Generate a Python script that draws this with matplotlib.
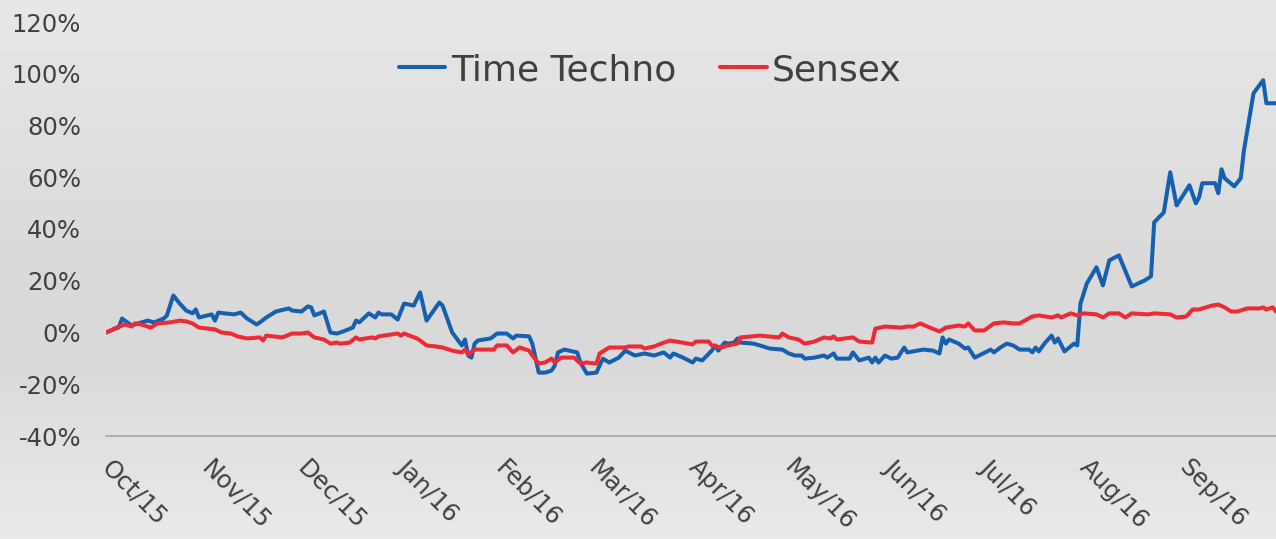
import numpy as np
import matplotlib
matplotlib.use("Agg")
import matplotlib.pyplot as plt
import matplotlib.transforms as mtransforms
from matplotlib.ticker import FuncFormatter

# days after 1 Oct 2015, value in percent
tt_days = [0, 4, 5, 8, 10, 13, 15, 18, 19, 21, 23, 25, 27, 28, 29, 33, 34, 35, 37, 40,
           42, 44, 47, 48, 50, 53, 57, 58, 61, 63, 64, 65, 68, 70, 72, 74, 77, 78, 79, 82,
           84, 85, 86, 89, 91, 93, 96, 98, 100, 104, 105, 108, 111, 112, 113, 114, 115, 116, 120, 122,
           125, 127, 128, 132, 133, 135, 137, 139, 140, 141, 143, 147, 148, 150, 153, 155, 157, 160, 162, 165,
           168, 171, 174, 176, 177, 180, 183, 184, 186, 189, 190, 191, 193, 194, 196, 197, 198, 202, 204, 207,
           211, 213, 215, 217, 218, 221, 224, 225, 227, 228, 232, 233, 235, 238, 239, 240, 241, 243, 245, 247,
           249, 250, 255, 258, 260, 261, 262, 263, 266, 268, 269, 271, 273, 276, 277, 279, 281, 283, 285, 288,
           289, 290, 291, 293, 295, 296, 297, 299, 302, 303, 304, 306, 309, 311, 313, 316, 320, 324, 326, 327,
           330, 332, 334, 338, 340, 341, 342, 346, 347, 348, 349, 352, 354, 355, 358, 361, 362, 365]
tt_vals = [0, 2, 5.4, 2.7, 3.5, 4.6, 3.9, 5.4, 6.6, 14.3, 11.2, 8.5, 7.4, 8.9, 5.8, 7.0, 4.6, 7.7, 7.4, 7.0,
           7.7, 5.4, 3.1, 3.9, 5.8, 8.1, 9.3, 8.5, 8.1, 10.1, 9.7, 6.6, 8.1, 0, -0.4, 0.4, 1.9, 4.6, 3.9, 7.4,
           5.8, 7.7, 7.0, 7.0, 5.0, 11.2, 10.4, 15.5, 4.6, 11.6, 10.4, 0, -5.0, -2.7, -8.9, -9.7, -4.3, -3.1, -2.3, -0.4,
           -0.4, -2.3, -1.2, -1.5, -4.3, -15.5, -15.5, -14.7, -12.8, -7.7, -6.6, -7.7, -11.6, -15.9, -15.5, -10.1, -11.6, -9.7, -7.0, -8.9,
           -8.1, -8.9, -7.7, -9.7, -8.1, -9.7, -11.6, -10.1, -10.8, -7.0, -5.0, -7.0, -3.9, -4.3, -3.9, -2.3, -3.9, -4.3, -5.0, -6.2,
           -6.6, -8.1, -8.9, -8.9, -10.1, -9.7, -8.9, -9.7, -8.1, -10.1, -10.1, -7.7, -10.8, -9.7, -11.6, -9.7, -11.6, -8.9, -10.1, -9.7,
           -5.8, -7.7, -6.6, -7.0, -8.1, -1.9, -4.3, -2.7, -4.3, -6.2, -5.8, -9.7, -8.5, -6.6, -7.7, -5.8, -4.3, -5.0, -6.6, -6.6,
           -7.7, -5.8, -7.3, -3.9, -1.2, -3.9, -2.3, -7.3, -4.3, -5.0, 11.2, 19.0, 25.2, 18.2, 27.9, 29.8, 17.8, 20.1, 21.7, 42.6,
           46.4, 61.9, 49.1, 56.9, 49.9, 52.2, 57.7, 57.7, 53.8, 63.1, 59.6, 56.5, 59.6, 70.4, 92.5, 97.5, 88.6, 88.6]

sx_days = [0, 4, 6, 8, 9, 11, 14, 16, 20, 23, 25, 27, 29, 32, 34, 36, 39, 41, 44, 48,
           49, 50, 55, 58, 61, 63, 65, 68, 70, 72, 73, 76, 78, 79, 83, 84, 85, 91, 92, 93,
           97, 98, 100, 103, 105, 108, 111, 112, 113, 115, 121, 122, 125, 127, 129, 132, 133, 135, 137, 139,
           140, 142, 146, 148, 150, 153, 154, 157, 162, 163, 167, 168, 171, 174, 176, 183, 184, 188, 189, 192,
           194, 197, 198, 204, 210, 211, 213, 216, 218, 221, 224, 226, 227, 228, 233, 235, 239, 240, 243, 248,
           250, 252, 254, 257, 260, 262, 266, 268, 269, 271, 274, 277, 280, 283, 285, 289, 291, 295, 297, 298,
           301, 303, 305, 309, 311, 313, 316, 318, 320, 325, 327, 332, 334, 337, 339, 341, 345, 347, 349, 351,
           353, 356, 360, 361, 362, 364, 365]
sx_vals = [0, 2.3, 3.1, 2.3, 3.5, 3.1, 1.9, 3.5, 3.9, 4.6, 4.3, 3.5, 1.9, 1.5, 1.2, 0, -0.4, -1.5, -2.3, -1.9,
           -3.1, -1.2, -1.9, -0.4, -0.4, 0, -1.9, -2.7, -4.3, -3.9, -4.3, -3.9, -1.9, -2.7, -1.9, -2.3, -1.5, -0.4, -1.2, -0.4,
           -2.3, -3.1, -5.0, -5.4, -5.8, -7.0, -7.7, -6.6, -8.5, -6.6, -6.6, -5.0, -5.0, -7.7, -5.8, -7.0, -8.9, -12.0, -11.6, -10.1,
           -11.6, -9.7, -9.7, -12.0, -11.6, -12.0, -8.1, -5.8, -5.8, -5.4, -5.4, -6.2, -5.4, -3.9, -3.1, -4.6, -3.5, -3.5, -5.0, -5.8,
           -5.0, -4.3, -1.9, -1.2, -1.9, -0.4, -1.9, -2.7, -4.3, -3.5, -1.9, -2.3, -1.5, -2.7, -1.9, -3.5, -3.9, 1.5, 2.3, 1.9,
           2.3, 2.3, 3.5, 1.9, 0.4, 1.9, 2.7, 2.3, 3.5, 0.8, 0.8, 3.5, 3.9, 3.5, 3.5, 6.2, 6.6, 5.8, 6.6, 5.8,
           7.4, 6.6, 7.4, 7.0, 5.8, 7.4, 7.4, 5.8, 7.4, 7.0, 7.4, 7.0, 5.8, 6.2, 8.9, 8.9, 10.4, 10.8, 9.7, 8.1,
           8.1, 9.3, 9.3, 9.7, 8.9, 9.7, 8.1]

y_ticks = [-40, -20, 0, 20, 40, 60, 80, 100, 120]
month_labels = ['Oct/15', 'Nov/15', 'Dec/15', 'Jan/16', 'Feb/16', 'Mar/16',
                'Apr/16', 'May/16', 'Jun/16', 'Jul/16', 'Aug/16', 'Sep/16']

start = np.datetime64('2015-10-01')
tt_dates = start + np.array(tt_days, dtype='timedelta64[D]')
sx_dates = start + np.array(sx_days, dtype='timedelta64[D]')
month_starts = np.arange(np.datetime64('2015-10'), np.datetime64('2016-10'),
                         dtype='datetime64[M]').astype('datetime64[D]')

text_color = '#404040'
plt.rcParams['font.family'] = ['DejaVu Sans']

fig = plt.figure(figsize=(12.76, 5.39), dpi=100)

# soft vertical gradient background
bg = fig.add_axes([0, 0, 1, 1], zorder=-10)
grad = np.concatenate([np.linspace(0.905, 0.85, 60), np.linspace(0.85, 0.85, 20),
                       np.linspace(0.85, 0.915, 40)])
bg.imshow(grad[:, None], aspect='auto', cmap='gray', vmin=0, vmax=1,
          extent=[0, 1, 0, 1], origin='upper')
bg.axis('off')

ax = fig.add_axes([106 / 1276, 1 - 436 / 539, 1 - 106 / 1276, (436 - 22) / 539])
ax.patch.set_alpha(0)

ax.plot(tt_dates, tt_vals, color='#1560b0', lw=2.9, label='Time Techno',
        solid_joinstyle='round', solid_capstyle='round')
ax.plot(sx_dates, sx_vals, color='#ee2a35', lw=2.9, label='Sensex',
        solid_joinstyle='round', solid_capstyle='round')

ax.set_ylim(-40, 120)
ax.set_yticks(y_ticks)
ax.yaxis.set_major_formatter(FuncFormatter(lambda v, p: f'{v:.0f}%'))
ax.set_xlim(start, np.datetime64('2016-09-30'))
ax.set_xticks(month_starts)
ax.set_xticklabels(month_labels)

for s in ['top', 'right', 'left']:
    ax.spines[s].set_visible(False)
ax.spines['bottom'].set_color('#a6a6a6')
ax.spines['bottom'].set_linewidth(1.2)

ax.tick_params(axis='y', length=0, pad=18, labelsize=17.5, labelcolor=text_color)
ax.tick_params(axis='x', length=0, pad=14, labelsize=17.5, labelcolor=text_color)
for lbl in ax.get_yticklabels():
    lbl.set_horizontalalignment('right')
shift = mtransforms.ScaledTranslation(8 / 100, 0, fig.dpi_scale_trans)
for lbl in ax.get_xticklabels():
    lbl.set_rotation(-45)
    lbl.set_horizontalalignment('left')
    lbl.set_verticalalignment('top')
    lbl.set_rotation_mode('anchor')
    lbl.set_transform(lbl.get_transform() + shift)

leg = ax.legend(loc='center', bbox_to_anchor=(0.465, 0.884), ncol=2, frameon=False,
                fontsize=26, handlelength=1.3, handletextpad=0.15, columnspacing=1.2,
                labelcolor=text_color)

fig.savefig('out.png', dpi=100)
